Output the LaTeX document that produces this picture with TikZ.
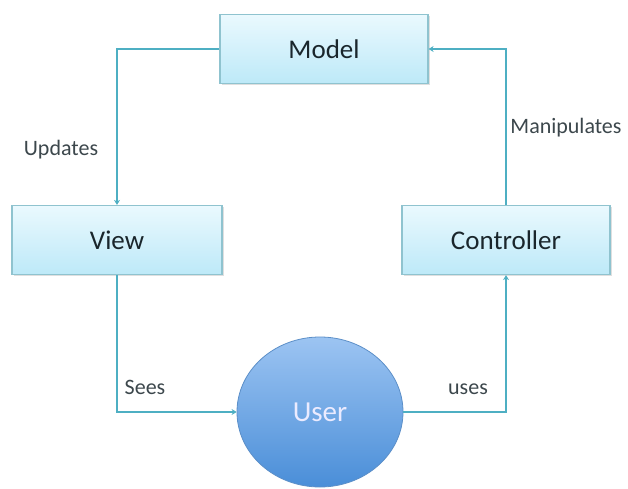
\documentclass[tikz,border=0pt]{standalone}
\usepackage{fontspec}
\setmainfont{Carlito}
\usetikzlibrary{arrows.meta,shadows,shapes.geometric}
\definecolor{linec}{HTML}{4EAFC3}
\definecolor{boxtop}{HTML}{EAF9FE}
\definecolor{boxbot}{HTML}{BDE9F8}
\definecolor{boxedge}{HTML}{8FC3CF}
\definecolor{usertop}{HTML}{9CC4F2}
\definecolor{userbot}{HTML}{4A8ED8}
\definecolor{usered}{HTML}{5C8FC8}
\definecolor{txt}{HTML}{1A262C}
\tikzset{
  mvcbox/.style={draw=boxedge, line width=1.2pt, top color=boxtop, bottom color=boxbot,
    minimum width=208pt, minimum height=69pt, inner sep=0pt,
    font=\fontsize{27}{30}\selectfont, text=txt,
    drop shadow={shadow xshift=1.5pt, shadow yshift=-1.5pt, opacity=0.25}},
  conn/.style={draw=linec, line width=2.8pt, -{Stealth[length=5pt,width=6pt]}},
  lbl/.style={font=\fontsize{22}{24}\selectfont, text=txt!85!white, inner sep=0pt}
}
\begin{document}
\begin{tikzpicture}[x=1pt,y=-1pt]
\useasboundingbox (0,0) rectangle (628,489);
\node[mvcbox] (model) at (324,49) {Model};
\node[mvcbox, minimum width=210pt] (view) at (117,240) {View};
\node[mvcbox] (ctrl) at (506,240) {Controller};
\node[ellipse, draw=usered, line width=0.8pt, top color=usertop, bottom color=userbot,
  minimum width=166pt, minimum height=150pt, inner sep=0pt,
  font=\fontsize{29}{32}\selectfont, text=white!92!blue] (user) at (320,412) {User};
\draw[conn] (model.west) -| (view.north);
\draw[conn] (view.south) |- (user.west);
\draw[conn] (user.east) -| (ctrl.south);
\draw[conn] (ctrl.north) |- (model.east);
\node[lbl] (lupd) at (61,150) {Updates};
\node[lbl] (lman) at (566,128) {Manipulates};
\node[lbl] (lsee) at (145,387) {Sees};
\node[lbl] (luse) at (468,389) {uses};
\end{tikzpicture}
\end{document}
